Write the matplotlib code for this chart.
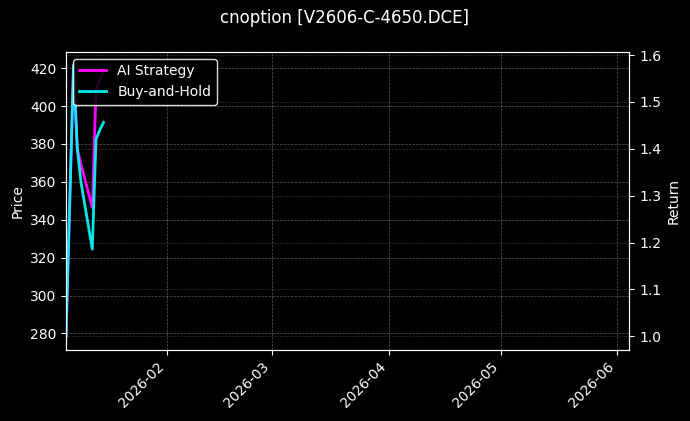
import matplotlib
matplotlib.use("Agg")
import matplotlib.pyplot as plt
import matplotlib.dates as mdates
import pandas as pd

plt.style.use("dark_background")

dates = pd.to_datetime(["2026-01-05", "2026-01-07", "2026-01-08", "2026-01-09",
                        "2026-01-12", "2026-01-13", "2026-01-14", "2026-01-15"])
price = [278.5, 421.5, 376.8, 359.5, 324.2, 382.6, 386.8, 392.6]
strategy = [1.0, 1.578, 1.40, 1.366, 1.275, 1.526, 1.547, 1.565]
buy_hold = [1.0, 1.578, 1.40, 1.328, 1.186, 1.42, 1.44, 1.456]
title = "cnoption [V2606-C-4650.DCE]"
x_start = pd.Timestamp("2026-01-05")
x_end = pd.Timestamp("2026-06-04 05:00")

fig, ax1 = plt.subplots(figsize=(6.9, 4.21), dpi=100)
fig.subplots_adjust(left=0.0957, right=0.912, top=0.877, bottom=0.169)

ax1.plot(dates, price, color="#8b1010", linewidth=1.2, alpha=0.8)
ax1.set_ylabel("Price")
ax1.grid(True, linestyle="--", linewidth=0.5, alpha=0.35)

ax2 = ax1.twinx()
ax2.plot(dates, strategy, color="#ff00ff", linewidth=2, label="AI Strategy")
ax2.plot(dates, buy_hold, color="#00ffff", linewidth=2, label="Buy-and-Hold", alpha=0.9)
ax2.set_ylabel("Return")
ax2.grid(True, linestyle=":", linewidth=0.5, alpha=0.35)

ax1.set_xlim(x_start, x_end)
ax1.xaxis.set_major_locator(mdates.MonthLocator())
ax1.xaxis.set_major_formatter(mdates.DateFormatter("%Y-%m"))
for lbl in ax1.get_xticklabels():
    lbl.set_rotation(45)
    lbl.set_ha("right")

leg = ax2.legend(loc="upper left", facecolor="black", edgecolor="white", framealpha=0.85)

fig.suptitle(title, fontsize=12, y=0.978)
fig.savefig("out.png", dpi=100)
